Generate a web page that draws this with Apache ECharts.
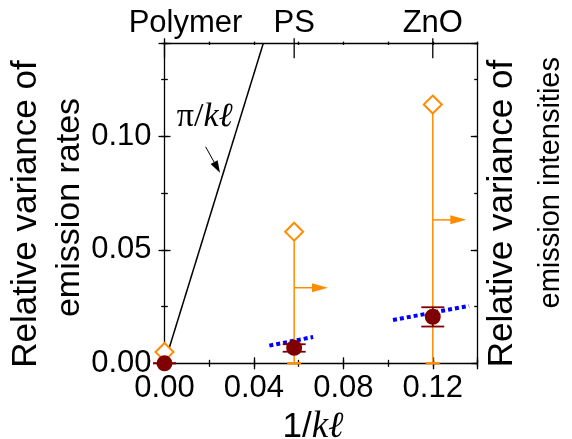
<!DOCTYPE html>
<html><head><meta charset="utf-8">
<script src="https://cdn.jsdelivr.net/npm/echarts@6/dist/echarts.min.js"></script>
<style>html,body{margin:0;padding:0;background:#fff}#c{width:572px;height:439px}</style>
</head><body><div id="c"></div>
<script>
// ---- data ----
const samples = ['Polymer', 'PS', 'ZnO'];
const invKl = [0, 0.058, 0.12];
const rateVar = [0.0, 0.0068, 0.0205];
const rateLow = [0.0, 0.0051, 0.0162];
const rateHigh = [0.0, 0.0084, 0.0247];
const intensityVar = [0.005, 0.058, 0.114];
const intensityLow = [0, 0, 0];
const arrowY = [null, 0.0333, 0.0632];
const arrowEndX = [null, 0.0731, 0.135];
const psFit = [[0.0469, 0.0078], [0.0665, 0.0116]];
const znoFit = [[0.1022, 0.0191], [0.1362, 0.0253]];
const piLine = [[0, 0], [0.0442, 0.141]];
const piLabel = [0.0055, 0.1085];
const piArrow = [[0.0184, 0.0954], [0.0248, 0.0840]];
const xLabelTicks = [0, 0.04, 0.08, 0.12];
const yLabelTicks = [0, 0.05, 0.10];
const xMajor = 0.04, xMinor = 0.02, yMajor = 0.05, yMinor = 0.025;
const xMax = 0.14, yMax = 0.141;

const ORANGE = '#ff8c00', MAROON = '#800000', BLUE = '#0000ff', BLACK = '#000';
const SANS = '"Liberation Sans", Arial, sans-serif';
const SERIF = '"Liberation Serif", "Times New Roman", serif';

function lineSt() { return { color: BLACK, width: 1.3 }; }
function baseAxis(extra) {
  return Object.assign({
    type: 'value', min: 0, gridIndex: 0,
    splitLine: { show: false },
    axisLine: { show: false, onZero: false },
    axisTick: { show: false },
    axisLabel: { show: false }
  }, extra);
}
function xA(extra) { return baseAxis(Object.assign({ max: xMax }, extra)); }
function yA(extra) { return baseAxis(Object.assign({ max: yMax }, extra)); }
function ticks(len, inside) { return { show: true, length: len, inside: !!inside, lineStyle: lineSt() }; }

const chart = echarts.init(document.getElementById('c'));
chart.setOption({
  animation: false,
  backgroundColor: '#fff',
  grid: { left: 164.5, top: 43.3, width: 313, height: 320, outerBoundsMode: 'none' },
  xAxis: [
    xA({
      position: 'bottom', interval: xMajor,
      axisLine: { show: true, onZero: false, lineStyle: lineSt() },
      axisLabel: {
        show: true, customValues: xLabelTicks, formatter: v => v.toFixed(2),
        fontSize: 31, fontFamily: SANS, color: BLACK, margin: 10
      },
      name: '1/{k|kℓ}', nameLocation: 'middle', nameGap: 41,
      nameTextStyle: {
        fontSize: 35, fontFamily: SANS, color: BLACK,
        rich: { k: { fontSize: 37, fontFamily: SERIF, fontStyle: 'italic', color: BLACK, padding: [0, 16, 0, 0] } }
      }
    }),
    xA({ position: 'bottom', offset: -6, interval: xMajor, axisTick: ticks(12) }),
    xA({ position: 'bottom', offset: -3.5, interval: xMinor, axisTick: ticks(7) }),
    xA({
      position: 'top',
      axisLine: { show: true, onZero: false, lineStyle: lineSt() },
      axisLabel: {
        show: true, customValues: invKl, margin: 4,
        fontSize: 31, fontFamily: SANS, color: BLACK,
        formatter: v => {
          const i = invKl.findIndex(x => Math.abs(x - v) < 1e-6);
          return i === 0 ? '{p|' + samples[0] + '}' : (i > 0 ? samples[i] : '');
        },
        rich: { p: { fontSize: 31, fontFamily: SANS, color: BLACK, padding: [0, 0, 0, 42] } }
      }
    }),
    xA({ position: 'top', offset: -1.7, interval: xMinor, axisTick: ticks(3.4) })
  ],
  yAxis: [
    yA({
      position: 'left', interval: yMajor,
      axisLine: { show: true, onZero: false, lineStyle: lineSt() },
      axisLabel: {
        show: true, customValues: yLabelTicks, formatter: v => v.toFixed(2),
        fontSize: 31, fontFamily: SANS, color: BLACK, margin: 13
      }
    }),
    yA({ position: 'left', offset: -6, interval: yMajor, axisTick: ticks(12) }),
    yA({ position: 'left', offset: -3.3, interval: yMinor, axisTick: ticks(6.6) }),
    yA({
      position: 'right', interval: yMajor,
      axisLine: { show: true, onZero: false, lineStyle: lineSt() },
      axisTick: ticks(6.7, true)
    }),
    yA({ position: 'right', interval: yMinor, axisTick: ticks(3.3, true) })
  ],
  graphic: [
    { type: 'text', x: 26, y: 214, rotation: Math.PI / 2, z: 100,
      style: { text: 'Relative variance of', font: '35px ' + SANS, fill: BLACK, align: 'center', verticalAlign: 'middle' } },
    { type: 'text', x: 70, y: 207.5, rotation: Math.PI / 2, z: 100,
      style: { text: 'emission rates', font: '34px ' + SANS, fill: BLACK, align: 'center', verticalAlign: 'middle' } },
    { type: 'text', x: 502.5, y: 213.5, rotation: Math.PI / 2, z: 100,
      style: { text: 'Relative variance of', font: '35px ' + SANS, fill: BLACK, align: 'center', verticalAlign: 'middle' } },
    { type: 'text', x: 551, y: 57, rotation: Math.PI / 2, z: 100,
      style: { text: 'emission intensities', font: '29px ' + SANS, fill: BLACK, align: 'right', verticalAlign: 'middle' } }
  ],
  series: [
    { // top sample ticks
      type: 'custom', xAxisIndex: 0, yAxisIndex: 0,
      data: invKl.map(x => [x, yMax]),
      encode: { x: 0, y: 1 },
      renderItem: (params, api) => {
        const p = api.coord([api.value(0), api.value(1)]);
        return { type: 'line', shape: { x1: p[0], y1: p[1] - 5, x2: p[0], y2: p[1] + 15 }, style: { stroke: BLACK, lineWidth: 1.3 } };
      }, z: 2
    },
    { // pi / k l line
      type: 'line', xAxisIndex: 0, yAxisIndex: 0, data: piLine, showSymbol: false,
      lineStyle: { color: BLACK, width: 1.5 }, z: 2
    },
    { // orange one-sided error bars (intensity)
      type: 'custom', xAxisIndex: 0, yAxisIndex: 3,
      data: invKl.map((x, i) => [x, intensityVar[i], intensityLow[i]]),
      encode: { x: 0, y: [1, 2] },
      renderItem: (params, api) => {
        const x = api.value(0);
        const p1 = api.coord([x, api.value(1)]), p2 = api.coord([x, api.value(2)]);
        return { type: 'group', children: [
          { type: 'line', shape: { x1: p1[0], y1: p1[1], x2: p2[0], y2: p2[1] }, style: { stroke: ORANGE, lineWidth: 1.5 } },
          { type: 'line', shape: { x1: p2[0] - 7, y1: p2[1], x2: p2[0] + 7, y2: p2[1] }, style: { stroke: ORANGE, lineWidth: 2.5 } }
        ] };
      }, z: 3
    },
    { // orange arrows pointing to right axis
      type: 'custom', xAxisIndex: 0, yAxisIndex: 3,
      data: invKl.map((x, i) => [x, arrowY[i], arrowEndX[i]]).filter(d => d[1] != null),
      encode: { x: [0, 2], y: 1 },
      renderItem: (params, api) => {
        const y = api.value(1);
        const p1 = api.coord([api.value(0), y]), p2 = api.coord([api.value(2), y]);
        const hl = 16, hw = 4.5;
        return { type: 'group', children: [
          { type: 'line', shape: { x1: p1[0], y1: p1[1], x2: p2[0] - hl + 2, y2: p2[1] }, style: { stroke: ORANGE, lineWidth: 1.5 } },
          { type: 'polygon', shape: { points: [[p2[0], p2[1]], [p2[0] - hl, p2[1] - hw], [p2[0] - hl, p2[1] + hw]] }, style: { fill: ORANGE } }
        ] };
      }, z: 3
    },
    { // diamonds (intensity variance, right axis)
      type: 'scatter', xAxisIndex: 0, yAxisIndex: 3,
      data: invKl.map((x, i) => [x, intensityVar[i]]),
      symbol: 'diamond', symbolSize: 18,
      itemStyle: { color: '#fff', borderColor: ORANGE, borderWidth: 2, opacity: 1 }, z: 4
    },
    { type: 'line', xAxisIndex: 0, yAxisIndex: 0, data: psFit, showSymbol: false,
      lineStyle: { color: BLUE, width: 4, type: [4, 3] }, z: 5 },
    { type: 'line', xAxisIndex: 0, yAxisIndex: 0, data: znoFit, showSymbol: false,
      lineStyle: { color: BLUE, width: 4, type: [4, 3] }, z: 5 },
    { // maroon error bars (rate)
      type: 'custom', xAxisIndex: 0, yAxisIndex: 0,
      data: invKl.map((x, i) => [x, rateLow[i], rateHigh[i]]),
      encode: { x: 0, y: [1, 2] },
      renderItem: (params, api) => {
        const x = api.value(0);
        const p1 = api.coord([x, api.value(1)]), p2 = api.coord([x, api.value(2)]);
        const w = 11.5;
        return { type: 'group', children: [
          { type: 'line', shape: { x1: p1[0], y1: p1[1], x2: p2[0], y2: p2[1] }, style: { stroke: MAROON, lineWidth: 1.8 } },
          { type: 'line', shape: { x1: p1[0] - w, y1: p1[1], x2: p1[0] + w, y2: p1[1] }, style: { stroke: MAROON, lineWidth: 1.8 } },
          { type: 'line', shape: { x1: p2[0] - w, y1: p2[1], x2: p2[0] + w, y2: p2[1] }, style: { stroke: MAROON, lineWidth: 1.8 } }
        ] };
      }, z: 6
    },
    { // circles (rate variance)
      type: 'scatter', xAxisIndex: 0, yAxisIndex: 0,
      data: invKl.map((x, i) => [x, rateVar[i]]),
      symbol: 'circle', symbolSize: 16,
      itemStyle: { color: MAROON, opacity: 1 }, z: 7
    },
    { // pi/kl annotation
      type: 'custom', xAxisIndex: 0, yAxisIndex: 0,
      data: [[piLabel[0], piLabel[1]]],
      encode: { x: 0, y: 1 },
      renderItem: (params, api) => {
        const p = api.coord([api.value(0), api.value(1)]);
        const a1 = api.coord(piArrow[0]), a2 = api.coord(piArrow[1]);
        const dx = a2[0] - a1[0], dy = a2[1] - a1[1], L = Math.hypot(dx, dy);
        const ux = dx / L, uy = dy / L, hl = 12, hw = 4;
        const bx = a2[0] - ux * hl, by = a2[1] - uy * hl;
        return { type: 'group', children: [
          { type: 'text', x: p[0], y: p[1], style: {
            text: '{a|π/}{b|kℓ}', align: 'left', verticalAlign: 'middle',
            rich: {
              a: { fontSize: 34, fontFamily: SERIF, fill: BLACK },
              b: { fontSize: 34, fontFamily: SERIF, fontStyle: 'italic', fill: BLACK }
            } } },
          { type: 'line', shape: { x1: a1[0], y1: a1[1], x2: bx, y2: by }, style: { stroke: BLACK, lineWidth: 1 } },
          { type: 'polygon', shape: { points: [[a2[0], a2[1]], [bx - uy * hw, by + ux * hw], [bx + uy * hw, by - ux * hw]] }, style: { fill: BLACK } }
        ] };
      }, z: 8
    }
  ]
});
</script>
</body></html>
